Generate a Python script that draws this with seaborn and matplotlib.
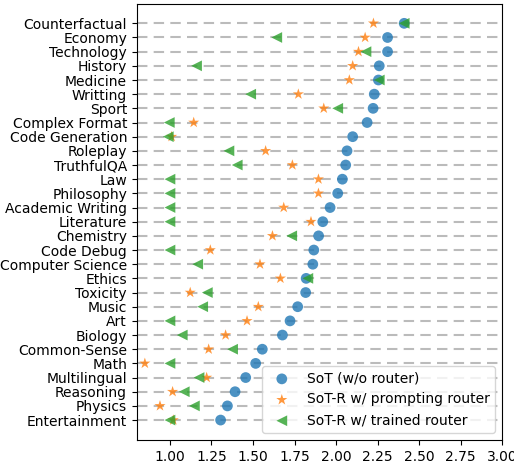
import pandas as pd
import numpy as np
import matplotlib.pyplot as plt
import seaborn as sns

# categories, top to bottom
categories = ["Counterfactual", "Economy", "Technology", "History", "Medicine",
              "Writting", "Sport", "Complex Format", "Code Generation", "Roleplay",
              "TruthfulQA", "Law", "Philosophy", "Academic Writing", "Literature",
              "Chemistry", "Code Debug", "Computer Science", "Ethics", "Toxicity",
              "Music", "Art", "Biology", "Common-Sense", "Math", "Multilingual",
              "Reasoning", "Physics", "Entertainment"]

sot = [2.41, 2.31, 2.31, 2.26, 2.255, 2.23, 2.223, 2.187, 2.10, 2.066,
       2.058, 2.038, 2.01, 1.964, 1.92, 1.895, 1.866, 1.86, 1.82, 1.817,
       1.769, 1.723, 1.677, 1.556, 1.516, 1.456, 1.392, 1.346, 1.305]

sotr_prompt = [2.225, 2.175, 2.135, 2.10, 2.08, 1.773, 1.926, 1.143, 1.01, 1.576,
               1.737, 1.894, 1.894, 1.685, 1.849, 1.617, 1.243, 1.542, 1.665, 1.122,
               1.532, 1.464, 1.335, 1.233, 0.849, 1.221, 1.016, 0.94, 1.02]

sotr_trained = [2.41, 1.643, 2.18, 1.16, 2.26, 1.486, 2.01, 0.996, 0.99, 1.355,
                1.405, 1.0, 1.0, 1.0, 1.0, 1.733, 1.0, 1.167, 1.83, 1.225,
                1.197, 1.0, 1.074, 1.377, 1.0, 1.175, 1.086, 1.147, 1.0]

df = pd.DataFrame({"Category": categories, "SoT": sot,
                   "Prompt": sotr_prompt, "Trained": sotr_trained})

fig, ax = plt.subplots(figsize=(5.14, 4.66), dpi=100)
plt.subplots_adjust(left=0.266, right=0.977, top=0.991, bottom=0.056)

ax.yaxis.grid(True, linestyle=(0, (5, 3)), color="#bbbbbb", linewidth=1.5, zorder=0)
ax.set_axisbelow(True)

sns.scatterplot(data=df, x="SoT", y="Category", marker="o", s=60, color="tab:blue",
                alpha=0.8, edgecolor="none", label="SoT (w/o router)", ax=ax, zorder=3)
sns.scatterplot(data=df, x="Prompt", y="Category", marker="*", s=70, color="tab:orange",
                alpha=0.8, edgecolor="none", label="SoT-R w/ prompting router", ax=ax, zorder=3)
sns.scatterplot(data=df, x="Trained", y="Category", marker="<", s=60, color="tab:green",
                alpha=0.8, edgecolor="none", label="SoT-R w/ trained router", ax=ax, zorder=3)

ax.set_xlim(0.8, 3.0)
ax.set_xticks([1.0, 1.25, 1.5, 1.75, 2.0, 2.25, 2.5, 2.75, 3.0])
ax.set_ylim(len(categories) - 1 + 1.4, -1.35)
ax.set_xlabel("")
ax.set_ylabel("")
ax.legend(loc="lower right", fontsize=10, framealpha=0.8)

plt.savefig("out.png")
